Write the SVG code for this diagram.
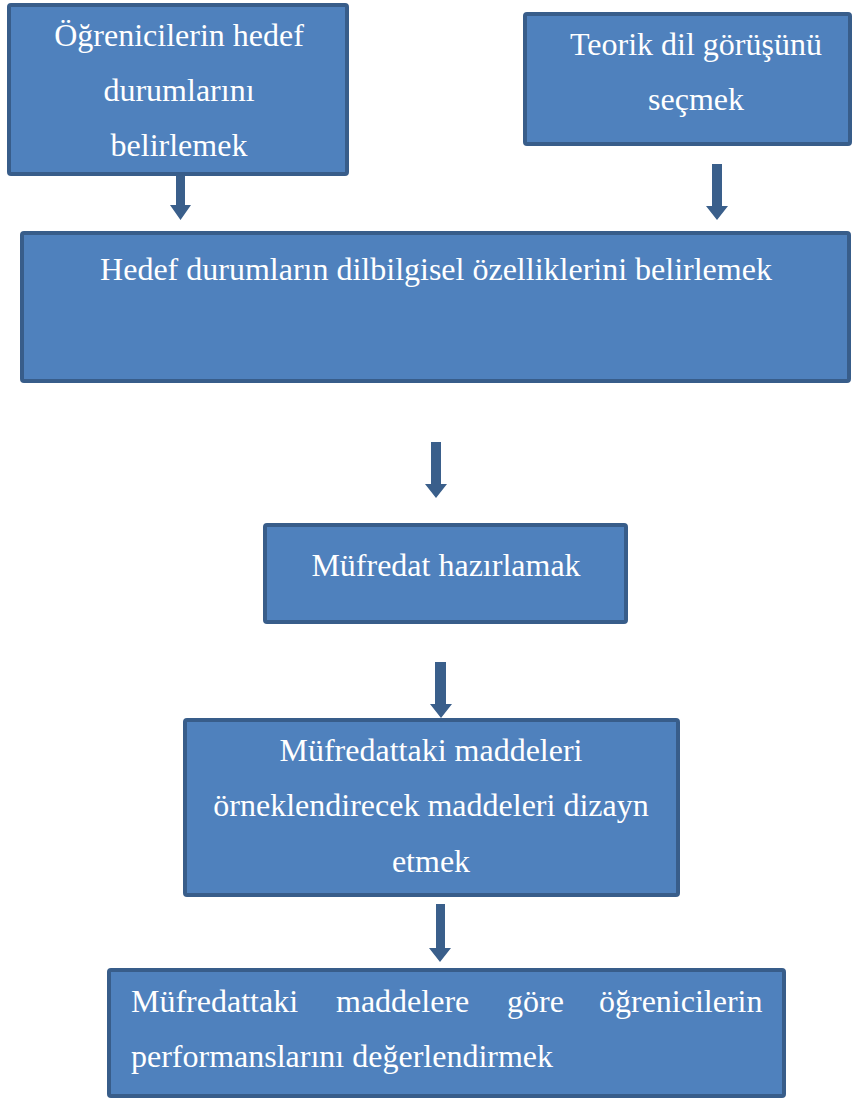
<svg xmlns="http://www.w3.org/2000/svg" width="853" height="1098" viewBox="0 0 853 1098">
  <defs>
    <style>
      .box { fill: #4F81BD; stroke: #385D8A; stroke-width: 4; }
      .lbl { font-family: "Liberation Serif", "Times New Roman", serif; font-size: 32px; fill: #FFFFFF; }
      .mid { text-anchor: middle; }
      .arrow { fill: #3A5F8B; }
    </style>
  </defs>
  <rect width="853" height="1098" fill="#FFFFFF"/>

  <!-- connectors: block arrows -->
  <g id="connectors">
    <polygon class="arrow" points="176,165 185,165 185,205 191,205 180.5,220 170,205 176,205"/>
    <polygon class="arrow" points="712,164 722,164 722,206 728,206 717,220 706,206 712,206"/>
    <polygon class="arrow" points="431,442 441,442 441,484 447,484 436,498 425,484 431,484"/>
    <polygon class="arrow" points="435,662 446,662 446,704 452,704 441,718 430,704 435,704"/>
    <polygon class="arrow" points="436,904 445,904 445,948 451,948 440,962 429,948 436,948"/>
  </g>

  <g id="node-hedef-durumlar">
    <rect class="box" x="9" y="5" width="338" height="169" rx="2"/>
    <text class="lbl mid" x="179" y="46">Öğrenicilerin hedef</text>
    <text class="lbl mid" x="179" y="101">durumlarını</text>
    <text class="lbl mid" x="179" y="156">belirlemek</text>
  </g>

  <g id="node-teorik-dil">
    <rect class="box" x="525" y="14" width="325" height="130" rx="2"/>
    <text class="lbl mid" x="696" y="55">Teorik dil görüşünü</text>
    <text class="lbl mid" x="696" y="110">seçmek</text>
  </g>

  <g id="node-dilbilgisel">
    <rect class="box" x="22" y="233" width="827" height="148" rx="2"/>
    <text class="lbl mid" x="436" y="280">Hedef durumların dilbilgisel özelliklerini belirlemek</text>
  </g>

  <g id="node-mufredat">
    <rect class="box" x="265" y="525" width="361" height="97" rx="2"/>
    <text class="lbl mid" x="446" y="576">Müfredat hazırlamak</text>
  </g>

  <g id="node-dizayn">
    <rect class="box" x="185" y="720" width="493" height="175" rx="2"/>
    <text class="lbl mid" x="431" y="761">Müfredattaki maddeleri</text>
    <text class="lbl mid" x="431" y="816">örneklendirecek maddeleri dizayn</text>
    <text class="lbl mid" x="431" y="872">etmek</text>
  </g>

  <g id="node-performans">
    <rect class="box" x="109" y="970" width="675" height="126" rx="2"/>
    <text class="lbl" y="1012"><tspan x="131">Müfredattaki</tspan><tspan x="336">maddelere</tspan><tspan x="507">göre</tspan><tspan x="599">öğrenicilerin</tspan></text>
    <text class="lbl" x="131" y="1067">performanslarını değerlendirmek</text>
  </g>
</svg>
